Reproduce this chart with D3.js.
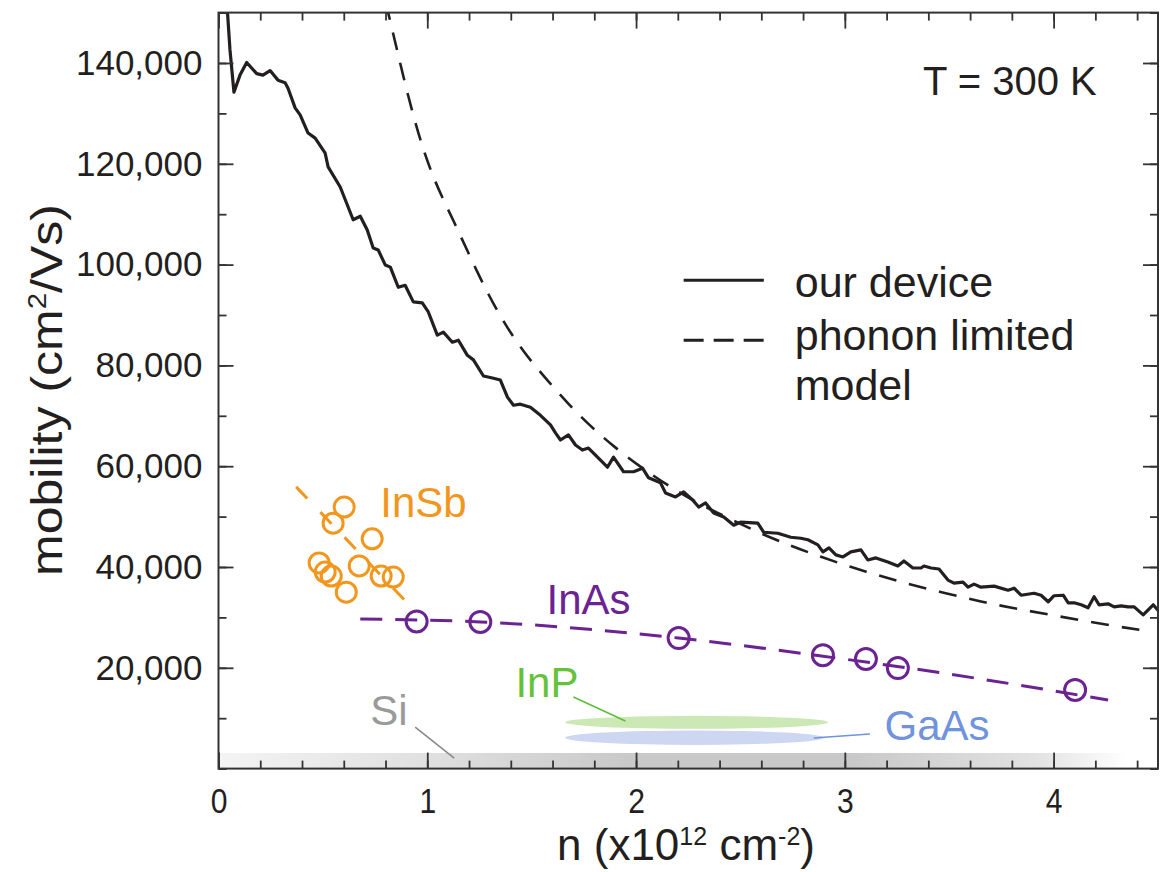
<!DOCTYPE html>
<html>
<head>
<meta charset="utf-8">
<script src="https://cdn.jsdelivr.net/npm/d3@7"></script>
<style>
  html, body { margin: 0; padding: 0; background: #fff; }
  svg { display: block; }
  text { font-family: "Liberation Sans", Arial, Helvetica, sans-serif; fill: #231f20; }
</style>
</head>
<body>
<svg id="chart" width="1172" height="872"></svg>
<script>
// ---- measured mobility of our graphene device vs carrier density (n in 1e12 cm^-2, mobility in cm^2/Vs)
const deviceN = [0.040, 0.055, 0.074, 0.103, 0.135, 0.183, 0.213, 0.247, 0.285, 0.319, 0.333, 0.367, 0.391, 0.429, 0.463,
  0.511, 0.525, 0.583, 0.645, 0.679, 0.712, 0.741, 0.765, 0.799, 0.823, 0.861, 0.894, 0.933, 0.976, 1.005,
  1.048, 1.077, 1.120, 1.149, 1.192, 1.221, 1.269, 1.312, 1.350, 1.384, 1.413, 1.446, 1.494, 1.542, 1.590,
  1.614, 1.638, 1.676, 1.710, 1.743, 1.772, 1.796, 1.863, 1.892, 1.940, 1.988, 2.031, 2.060, 2.117, 2.141,
  2.189, 2.228, 2.271, 2.300, 2.333, 2.372, 2.420, 2.468, 2.501, 2.583, 2.611, 2.679, 2.741, 2.789, 2.823,
  2.871, 2.895, 2.924, 2.957, 2.991, 3.029, 3.077, 3.110, 3.149, 3.206, 3.254, 3.283, 3.326, 3.365, 3.379,
  3.413, 3.451, 3.494, 3.523, 3.566, 3.590, 3.619, 3.652, 3.715, 3.782, 3.811, 3.844, 3.906, 3.940, 3.974,
  4.002, 4.046, 4.070, 4.098, 4.132, 4.165, 4.194, 4.218, 4.261, 4.290, 4.324, 4.357, 4.386, 4.429, 4.453,
  4.477, 4.506];
const deviceMu = [152000, 142600, 134200, 137600, 140100, 137900, 137600, 138500, 136600, 136100, 135000, 131100, 129700, 126100, 125100,
  122100, 119400, 115400, 108900, 109600, 106900, 103300, 102900, 99900, 99500, 95500, 95900, 92600, 92400, 90600,
  86000, 86600, 84600, 85000, 82000, 81100, 77900, 77500, 77100, 73700, 72100, 72300, 71700, 70100, 68200,
  66600, 65200, 66200, 64200, 63200, 63600, 62600, 59800, 61800, 58900, 58900, 59600, 57700, 56700, 54700,
  53900, 54900, 53300, 51900, 52700, 50700, 49900, 48300, 48900, 48700, 46900, 46700, 45900, 45700, 45400,
  44400, 43000, 43800, 42400, 42000, 43000, 43400, 41400, 41800, 41000, 40200, 41200, 39800, 39800, 40200,
  39800, 39600, 37400, 36800, 37000, 36000, 36600, 36000, 36200, 35400, 35800, 34400, 34800, 34400, 33100,
  34300, 34400, 32900, 32900, 32500, 31900, 34100, 32500, 32700, 32100, 32300, 32100, 32100, 30500, 31500,
  32500, 31100];

// ---- phonon limited model
const phononN = [0.800, 0.813, 0.933, 1.029, 1.125, 1.240, 1.350, 1.461, 1.576, 1.672, 1.782, 1.893, 2.022, 2.166,
  2.309, 2.583, 2.727, 2.885, 3.029, 3.187, 3.331, 3.494, 3.652, 3.811, 3.974, 4.132, 4.290, 4.434];
const phononMu = [152000, 150100, 128700, 116800, 108900, 98300, 89500, 82600, 77000, 72500, 67900, 63900, 59800, 55800,
  52300, 46900, 44400, 42000, 40000, 38000, 36300, 34700, 33100, 31800, 30600, 29400, 28300, 27400];

// ---- InSb reports
const insbN  = [0.602, 0.549, 0.736, 0.482, 0.511, 0.540, 0.674, 0.612, 0.779, 0.837];
const insbMu = [51900, 48700, 45600, 40800, 39000, 38200, 40200, 35000, 38200, 38000];
const insbFitN  = [0.372, 0.904];
const insbFitMu = [55900, 32900];

// ---- InAs reports
const inasN  = [0.949, 1.254, 2.204, 2.895, 3.101, 3.254, 4.103];
const inasMu = [29200, 29100, 25900, 22500, 21750, 19950, 15600];
const inasFitN  = [0.679, 1.254, 2.204, 2.895, 3.461, 4.261];
const inasFitMu = [29700, 29100, 25900, 22300, 19000, 13600];

// ---- ranges for InP, GaAs and Si
const inpN = [1.66, 2.92],  inpMu = [7900, 10480];
const gaasN = [1.66, 2.90], gaasMu = [4700, 7560];
const siN = [0, 4.35],      siMu = [0, 3100];

// ---- axes
const xTicks = [0, 1, 2, 3, 4];
const yTicks = [20000, 40000, 60000, 80000, 100000, 120000, 140000];
const xDomain = [0, 4.5];
const yDomain = [0, 150000];

const legendLabels = ["our device", "phonon limited", "model"];
const tempLabel = "T = 300 K";

const svg = d3.select("#chart");
const x = d3.scaleLinear().domain(xDomain).range([218.5, 1158]);
const y = d3.scaleLinear().domain(yDomain).range([768.6, 12.6]);
const [x0, x1] = x.range();
const [yb, yt] = y.range();

const defs = svg.append("defs");
defs.append("clipPath").attr("id", "plot-clip")
  .append("rect").attr("x", x0).attr("y", yt).attr("width", x1 - x0).attr("height", yb - yt);

// grey gradient band for Si
const grad = defs.append("linearGradient").attr("id", "si-grad")
  .attr("gradientUnits", "userSpaceOnUse")
  .attr("x1", x(siN[0])).attr("x2", x(siN[1])).attr("y1", 0).attr("y2", 0);
[[0, "#f4f4f4"], [0.25, "#dedede"], [0.45, "#c9c9c9"], [0.7, "#c9c9c9"], [0.9, "#e2e2e2"], [1, "#ffffff"]]
  .forEach(([o, c]) => grad.append("stop").attr("offset", o).attr("stop-color", c));

const plot = svg.append("g").attr("clip-path", "url(#plot-clip)");

plot.append("rect")
  .attr("x", x(siN[0])).attr("width", x(siN[1]) - x(siN[0]))
  .attr("y", y(siMu[1])).attr("height", y(siMu[0]) - y(siMu[1]))
  .attr("fill", "url(#si-grad)");

function rangeEllipse(nr, mr, fill) {
  plot.append("ellipse")
    .attr("cx", (x(nr[0]) + x(nr[1])) / 2)
    .attr("cy", (y(mr[0]) + y(mr[1])) / 2)
    .attr("rx", (x(nr[1]) - x(nr[0])) / 2)
    .attr("ry", Math.abs(y(mr[0]) - y(mr[1])) / 2)
    .attr("fill", fill);
}
rangeEllipse(inpN, inpMu, "#cbe8b5");
rangeEllipse(gaasN, gaasMu, "#ced7f1");

const zip = (a, b) => a.map((v, i) => [v, b[i]]);
const line = d3.line().x(d => x(d[0])).y(d => y(d[1]));

// InSb
const orange = "#f2971d";
plot.append("path").datum(zip(insbFitN, insbFitMu))
  .attr("d", line).attr("fill", "none").attr("stroke", orange)
  .attr("stroke-width", 3).attr("stroke-dasharray", "16,19");
plot.selectAll("circle.insb").data(zip(insbN, insbMu)).join("circle")
  .attr("class", "insb")
  .attr("cx", d => x(d[0])).attr("cy", d => y(d[1])).attr("r", 10)
  .attr("fill", "none").attr("stroke", orange).attr("stroke-width", 3);

// InAs
const purple = "#6a2391";
plot.append("path").datum(zip(inasFitN, inasFitMu))
  .attr("d", d3.line().x(d => x(d[0])).y(d => y(d[1])).curve(d3.curveMonotoneX))
  .attr("fill", "none").attr("stroke", purple)
  .attr("stroke-width", 3).attr("stroke-dasharray", "22,13");
plot.selectAll("circle.inas").data(zip(inasN, inasMu)).join("circle")
  .attr("class", "inas")
  .attr("cx", d => x(d[0])).attr("cy", d => y(d[1])).attr("r", 10.5)
  .attr("fill", "none").attr("stroke", purple).attr("stroke-width", 3);

// phonon limited model
plot.append("path").datum(zip(phononN, phononMu))
  .attr("d", d3.line().x(d => x(d[0])).y(d => y(d[1])).curve(d3.curveBasis))
  .attr("fill", "none").attr("stroke", "#231f20").attr("stroke-width", 2.6)
  .attr("stroke-dasharray", "18,13");

// our device
plot.append("path").datum(zip(deviceN, deviceMu))
  .attr("d", line).attr("fill", "none").attr("stroke", "#231f20")
  .attr("stroke-width", 3.2).attr("stroke-linejoin", "round").attr("stroke-linecap", "round");

// ---- annotations
const ann = svg.append("g");
function label(txt, n, mu, color, size) {
  ann.append("text").attr("x", x(n)).attr("y", y(mu))
    .style("fill", color).style("font-size", size + "px").text(txt);
}
function leader(n0, m0, n1, m1, color) {
  ann.append("line").attr("x1", x(n0)).attr("y1", y(m0)).attr("x2", x(n1)).attr("y2", y(m1))
    .attr("stroke", color).attr("stroke-width", 1.6);
}
label("InSb", 0.775, 49900, orange, 42);
label("InAs", 1.571, 30700, purple, 42);
label("InP", 1.422, 14200, "#64c23a", 42);
leader(1.700, 14200, 1.949, 9440, "#5cbf3a");
label("GaAs", 3.19, 5670, "#6f93dc", 42);
leader(2.851, 6070, 3.120, 6860, "#6f93dc");
label("Si", 0.727, 8650, "#9a9a9a", 42);
leader(0.942, 8250, 1.129, 2100, "#8a8a8a");

ann.append("text").attr("x", x(3.374)).attr("y", y(133640))
  .style("font-size", "40px").text(tempLabel);

// legend
const lg = svg.append("g");
lg.append("line").attr("x1", x(2.228)).attr("x2", x(2.612)).attr("y1", y(96900)).attr("y2", y(96900))
  .attr("stroke", "#231f20").attr("stroke-width", 3);
lg.append("line").attr("x1", x(2.228)).attr("x2", x(2.612)).attr("y1", y(85000)).attr("y2", y(85000))
  .attr("stroke", "#231f20").attr("stroke-width", 3).attr("stroke-dasharray", "20,10");
[[legendLabels[0], 93500], [legendLabels[1], 83000], [legendLabels[2], 73100]].forEach(([t, m]) => {
  lg.append("text").attr("x", x(2.760)).attr("y", y(m)).style("font-size", "43px").text(t);
});

// ---- axes (ticks point inward on all four sides)
const axisColor = "#333";
const minorX = d3.range(0, 4.5001, 0.2);
const minorY = d3.range(0, 150001, 10000);

function styleAxis(g) {
  g.selectAll(".domain").remove();
  g.selectAll(".tick line").attr("stroke", axisColor).attr("stroke-width", 1.8);
  g.selectAll("text").style("font-size", "35px").style("fill", "#231f20")
    .style("font-family", '"Liberation Sans", Arial, Helvetica, sans-serif');
}

const gx = svg.append("g").attr("transform", `translate(0,${yb})`);
gx.append("g").call(d3.axisBottom(x).tickValues(minorX).tickSize(-8).tickFormat("")).call(styleAxis);
gx.append("g").call(d3.axisBottom(x).tickValues(xTicks).tickSize(-16).tickPadding(20).tickFormat(d3.format("d"))).call(styleAxis);
// narrow digits along the bottom axis
gx.selectAll(".tick text").attr("transform", "scale(0.86,1)");

const gxt = svg.append("g").attr("transform", `translate(0,${yt})`);
gxt.append("g").call(d3.axisTop(x).tickValues(minorX).tickSize(-8).tickFormat("")).call(styleAxis);
gxt.append("g").call(d3.axisTop(x).tickValues(xTicks).tickSize(-16).tickFormat("")).call(styleAxis);

const gy = svg.append("g").attr("transform", `translate(${x0},0)`);
gy.append("g").call(d3.axisLeft(y).tickValues(minorY).tickSize(-8).tickFormat("")).call(styleAxis);
gy.append("g").call(d3.axisLeft(y).tickValues(yTicks).tickSize(-15).tickPadding(16).tickFormat(d3.format(","))).call(styleAxis);

const gyr = svg.append("g").attr("transform", `translate(${x1},0)`);
gyr.append("g").call(d3.axisRight(y).tickValues(minorY).tickSize(-8).tickFormat("")).call(styleAxis);
gyr.append("g").call(d3.axisRight(y).tickValues(yTicks).tickSize(-15).tickFormat("")).call(styleAxis);

svg.append("rect").attr("x", x0).attr("y", yt).attr("width", x1 - x0).attr("height", yb - yt)
  .attr("fill", "none").attr("stroke", axisColor).attr("stroke-width", 2);

// axis titles, set in a narrow face: scaled horizontally to the wanted length
function fitTitle(sel, targetLen, tx, ty, rot) {
  const len = sel.node().getComputedTextLength();
  const s = targetLen / len;
  sel.attr("transform", `translate(${tx},${ty}) rotate(${rot}) scale(${s},1)`);
}

const xt = svg.append("text").attr("text-anchor", "middle").style("font-size", "44px");
xt.append("tspan").text("n (x10");
xt.append("tspan").attr("dy", -15).style("font-size", "25px").text("12");
xt.append("tspan").attr("dy", 15).text(" cm");
xt.append("tspan").attr("dy", -15).style("font-size", "25px").text("-2");
xt.append("tspan").attr("dy", 15).text(")");
fitTitle(xt, 258, 686, 860, 0);

const yTitle = svg.append("text").attr("text-anchor", "middle").style("font-size", "44px");
yTitle.append("tspan").text("mobility (cm");
yTitle.append("tspan").attr("dy", -16).style("font-size", "26px").text("2");
yTitle.append("tspan").attr("dy", 16).text("/Vs)");
fitTitle(yTitle, 372, 62, 390, -90);
</script>
</body>
</html>
